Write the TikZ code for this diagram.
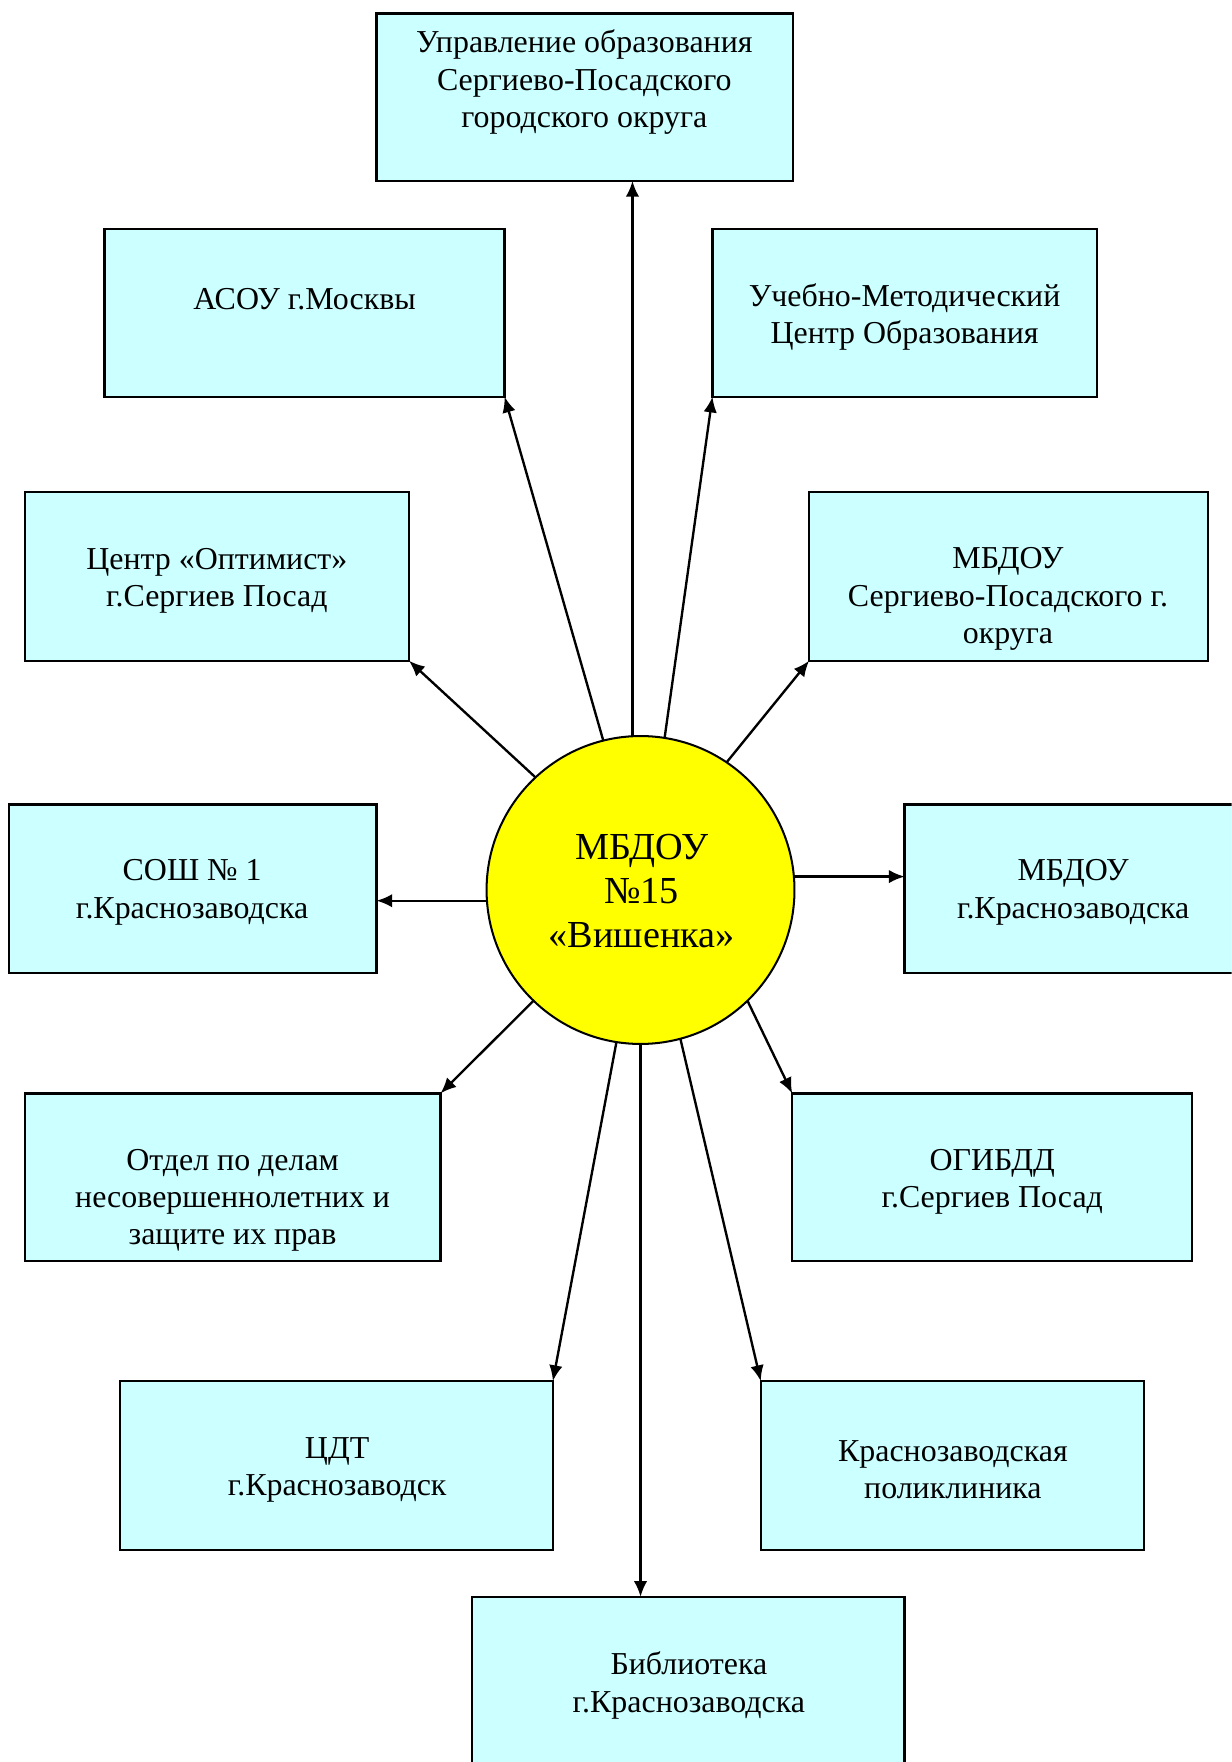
\documentclass[tikz,border=0pt]{standalone}
\usepackage{fontspec}
\setmainfont{Liberation Serif}
\usetikzlibrary{arrows.meta}
\definecolor{boxcyan}{HTML}{CCFFFF}
\definecolor{sunyellow}{HTML}{FFFF00}
\tikzset{
  box/.style={draw=black, line width=1pt, fill=boxcyan, rectangle, inner sep=0pt, outer sep=0pt},
  txt/.style={align=center, inner sep=0pt, font=\fontsize{14.2pt}{16.6pt}\selectfont},
  hub/.style={draw=black, line width=0.9pt, fill=sunyellow, circle, inner sep=0pt, outer sep=0pt, minimum size=137pt},
  arr/.style={line width=1.05pt, -{Latex[length=7pt,width=6pt]}}
}
\begin{document}
\begin{tikzpicture}[x=0.5pt,y=-0.5pt]
\useasboundingbox (0,0) rectangle (1096,1568);
\clip (0,0) rectangle (1096,1568);
% boxes
\node[box, minimum width=185.5pt, minimum height=74.5pt] (upr) at (520.5,86.5) {};
\node[box, minimum width=178pt, minimum height=74.5pt] (asou) at (271,278.5) {};
\node[box, minimum width=171pt, minimum height=74.5pt] (ucheb) at (805,278.5) {};
\node[box, minimum width=171pt, minimum height=75pt] (optim) at (193,513) {};
\node[box, minimum width=177.5pt, minimum height=75pt] (mbdsp) at (897.5,513) {};
\node[box, minimum width=163.5pt, minimum height=75pt] (sosh) at (171.5,791) {};
\node[box, minimum width=150pt, minimum height=75pt] (mbdkr) at (955,791) {};
\node[box, minimum width=185pt, minimum height=74.5pt] (otdel) at (207,1047.5) {};
\node[box, minimum width=178pt, minimum height=74.5pt] (ogibdd) at (883,1047.5) {};
\node[box, minimum width=192.5pt, minimum height=75pt] (cdt) at (299.5,1304) {};
\node[box, minimum width=170.5pt, minimum height=75pt] (polik) at (847.5,1304) {};
\node[box, minimum width=192.5pt, minimum height=89.5pt] (bibl) at (612.5,1510.5) {};
% texts
\node[txt] (tupr) at (520,73) {Управление образования\\Сергиево-Посадского\\городского округа};
\node[txt] (tasou) at (271,266) {АСОУ г.Москвы};
\node[txt] (tucheb) at (805,282) {Учебно-Методический\\Центр Образования};
\node[txt] (toptim) at (193,517) {Центр «Оптимист»\\г.Сергиев Посад};
\node[txt] (tmbdsp) at (897,533) {МБДОУ\\Сергиево-Посадского г.\\округа};
\node[txt] (tsosh) at (171,794) {СОШ № 1\\г.Краснозаводска};
\node[txt] (tmbdkr) at (955,794) {МБДОУ\\г.Краснозаводска};
\node[txt] (totdel) at (207,1068) {Отдел по делам\\несовершеннолетних и\\защите их прав};
\node[txt] (togibdd) at (883,1052) {ОГИБДД\\г.Сергиев Посад};
\node[txt] (tcdt) at (300,1308) {ЦДТ\\г.Краснозаводск};
\node[txt] (tpolik) at (848,1308) {Краснозаводская\\поликлиника};
\node[txt] (tbibl) at (613,1500) {Библиотека\\г.Краснозаводска};
% hub
\node[hub] (c) at (570,792) {};
\node[align=center, inner sep=0pt, font=\fontsize{17pt}{19.5pt}\selectfont] (tc) at (571,793) {МБДОУ\\№15\\«Вишенка»};
% connectors
\draw[arr] (c.93) -- (c.93 |- upr.south);
\draw[arr] (c.104) -- (asou.south east);
\draw[arr] (c.81) -- (ucheb.south west);
\draw[arr] (c.133) -- (optim.south east);
\draw[arr] (c.56) -- (mbdsp.south west);
\draw[arr] (c.184) -- (c.184 -| sosh.east);
\draw[arr] (c.5) -- (c.5 -| mbdkr.west);
\draw[arr] (c.226) -- (otdel.north east);
\draw[arr] (c.314) -- (ogibdd.north west);
\draw[arr] (c.261) -- (cdt.north east);
\draw[arr] (c.285) -- (polik.north west);
\draw[arr] (c.270) -- (c.270 |- bibl.north);
\end{tikzpicture}
\end{document}
